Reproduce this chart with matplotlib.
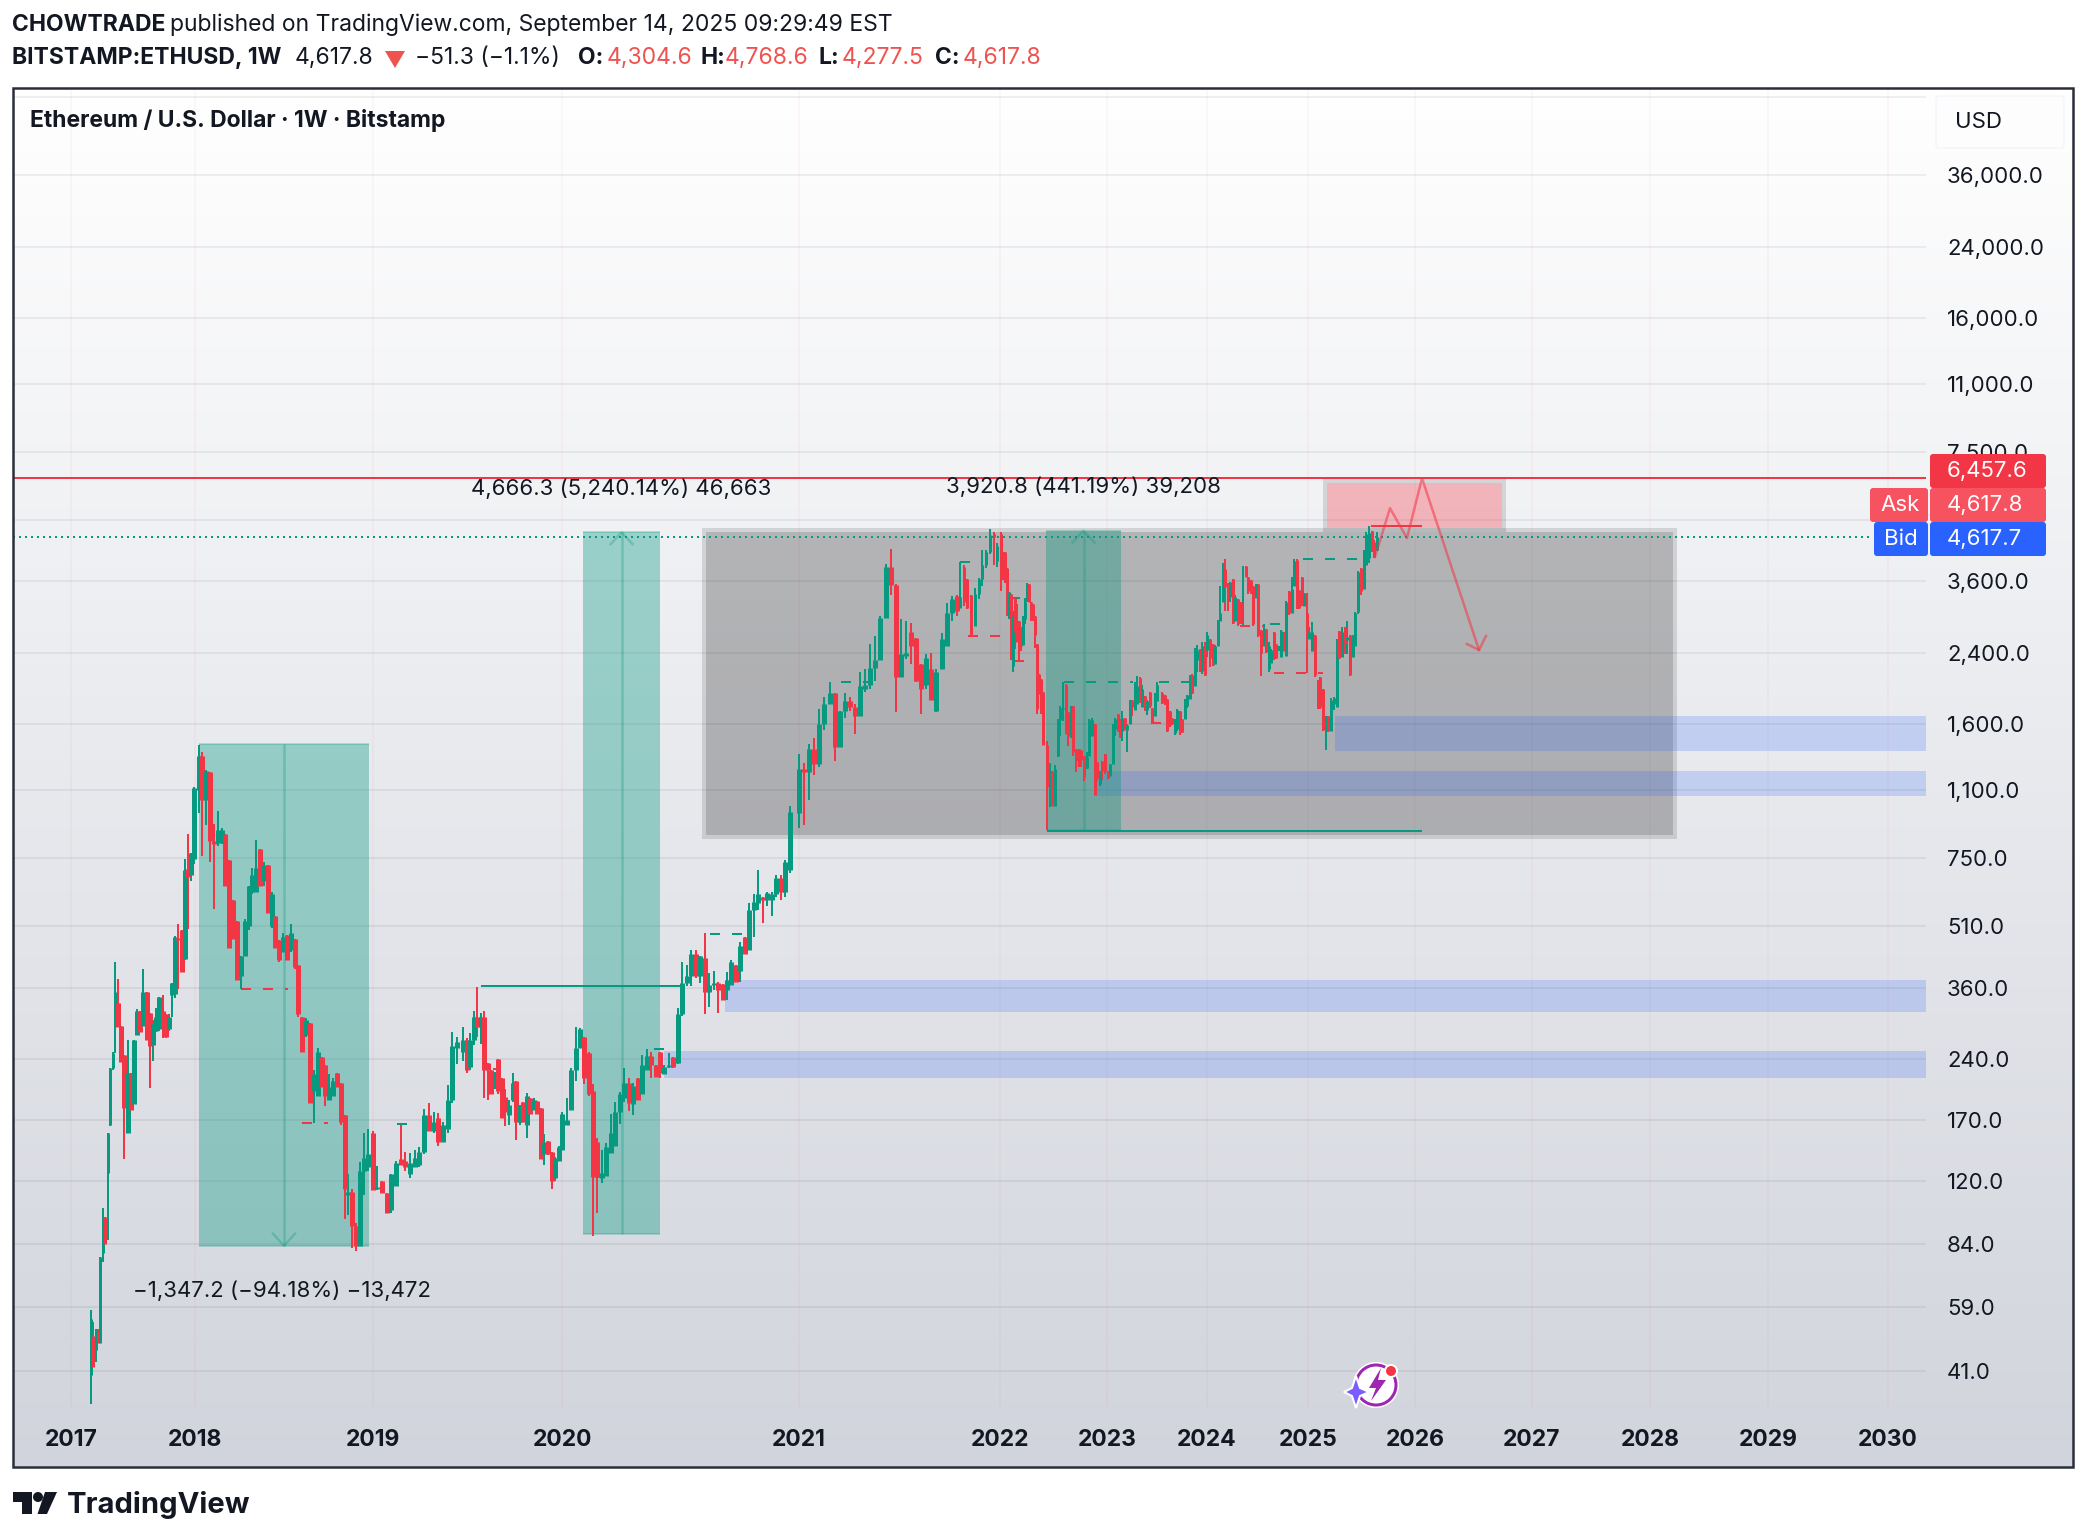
import numpy as np
import matplotlib
matplotlib.use('Agg')
import matplotlib.pyplot as plt
from matplotlib.patches import Rectangle, FancyBboxPatch, Circle, Polygon, Arc
from matplotlib.ticker import NullLocator

plt.rcParams['font.family'] = ['Inter', 'DejaVu Sans']

# weekly candles, one list per stretch of the chart: open, high, low, close
ohlc_2017a = [[40,58,34,55],[50,54,42,42],[46,52,43,50],[51,52,48,48],[48,78,48,78],[80,103,76,92],
              [98,98,84,84],[126,158,86,158],[165,228,164,228],[228,250,225,248],[305,415,248,350]]
ohlc_2017b = [[330,378,288,288],[290,290,236,236],[245,245,136,182],[158,268,158,222],[222,222,180,180],
              [186,268,186,268],[275,318,275,315],[315,315,280,280],[290,400,290,350],[350,350,268,268],
              [312,312,204,258],[260,300,238,295],[282,320,280,305],[285,342,282,342],[315,345,270,288],
              [310,310,270,272],[285,310,282,305],[345,370,305,370],[348,482,340,480],[478,515,358,472],
              [498,498,393,393],[422,745,420,700],[705,860,503,675],[680,770,660,770],[745,1120,725,1115]]
ohlc_2018 = [[1100,1420,970,1340],[1340,1370,760,1040],[1045,1235,905,1230],[1225,1225,735,825],[825,910,563,810],
             [815,980,805,880],[840,890,810,880],[860,860,640,640],[740,740,450,450],[590,590,475,475],
             [525,525,375,375],[385,430,358,430],[430,530,435,525],[510,640,500,640],[620,710,610,680],
             [620,830,620,710],[790,790,640,640],[660,734,640,720],[720,720,550,550],[510,620,505,610],
             [540,540,450,450],[470,470,415,420],[440,490,440,480],[485,485,420,420],[445,515,440,490],
             [475,475,400,405],[410,410,305,310],[305,305,250,250],[275,303,272,300],[295,295,187,187],
             [200,225,167,220],[195,255,195,250],[243,243,205,205],[232,232,184,195],[190,220,190,205],
             [195,215,195,212],[222,222,205,205],[210,210,165,168],[175,175,97,115],[111,125,99,113],
             [113,115,82,93],[93,95,81,83],[83,134,83,127],[127,158,111,137],[130,161,127,140]]
ohlc_2019a = [[158,160,114,114],[115,131,114,116],[120,120,112,112],[112,112,100,100],[102,125,100,125],
              [117,135,117,133],[136,165,132,132],[135,142,127,130],[125,141,122,133],[130,143,130,137],
              [132,146,130,142],[142,181,140,175],[175,187,160,160],[160,178,158,168],[172,177,147,150],
              [150,168,150,165],[161,207,158,190],[190,280,187,258],[255,272,233,265]]
ohlc_2019b = [[250,288,238,268],[268,270,222,225],[230,278,226,268],[268,316,260,304],[304,362,272,288],
              [288,312,262,304],[304,316,192,226],[235,235,190,226],[226,226,197,197],[205,223,203,220],
              [240,240,197,200],[216,216,172,172],[194,202,164,178],[175,190,165,185],[190,222,188,210],
              [212,212,152,168],[168,185,165,185],[188,188,168,168],[165,198,153,195],[192,192,176,176],
              [180,193,180,190],[189,189,176,176],[182,182,136,136],[140,157,132,150],[151,151,139,140],
              [142,142,115,120],[122,138,120,137],[135,147,135,146],[143,178,143,176],[165,192,165,170],
              [180,228,180,226],[226,288,212,255],[255,287,255,285]]
ohlc_2020 = [[272,272,208,215],[249,250,195,197],[200,208,88,123],[150,153,100,123],[122,143,119,126],
             [124,149,124,146],[141,176,141,158],[147,188,147,178],[178,199,166,197],[192,228,188,210],
             [209,216,179,187],[186,209,175,206],[216,216,190,190],[197,245,197,232],[226,254,225,244],
             [244,250,215,232],[232,232,217,217],[250,250,215,222],[220,232,220,230],[230,248,228,232],
             [243,243,228,230],[235,320,234,310],[310,416,307,370],[370,408,363,385],[385,445,363,435],
             [435,446,380,385],[385,430,370,430],[425,490,310,350],[350,390,323,365],[365,395,355,370],
             [370,372,312,355],[368,368,335,335],[355,393,335,375],[365,420,365,415],[410,410,372,372],
             [395,466,372,455],[480,480,435,435],[446,580,446,560],[558,610,480,585],[580,700,560,610],
             [600,600,520,590],[590,620,570,615],[590,620,540,610],[610,680,600,670],[670,680,590,620],
             [620,740,600,735],[700,1010,690,973]]
ohlc_2021a = [[970,1349,890,1245],[1245,1285,905,1225],[1225,1430,1040,1390],[1390,1480,1200,1280],
              [1280,1750,1260,1600],[1600,1870,1550,1795],[1795,2040,1795,1915],[1910,1915,1300,1410],
              [1410,1730,1410,1730],[1730,1915,1660,1825],[1825,1870,1730,1770],[1770,1800,1515,1680],
              [1680,2150,1680,1990],[1950,2190,1925,2000],[2000,2530,1950,2200],[2200,2640,2050,2300],
              [2310,2960,2310,2930],[2925,3970,2925,3900],[3900,4320,3340,3535],[3535,3550,1720,2090],
              [2090,2900,2090,2380],[2360,2880,2320,2400],[2700,2840,2250,2500],[2610,2610,2030,2045],
              [2250,2250,1695,1960],[2000,2385,1950,2330],[2190,2400,1840,1840],[1730,2190,1720,2150],
              [2190,2680,2190,2600],[2500,3180,2500,3010],[3010,3310,2880,3260],[3310,3340,2950,3050]]
ohlc_2021b = [[3100,4020,3100,3300],[3900,3950,3130,3200],[3650,3650,3080,3090],[3340,3340,2640,2640],
              [2790,3470,2790,3350],[3350,3660,3250,3650],[3650,4300,3500,3950],[3940,4300,3880,4260],
              [4260,4830,4200,4680],[4700,4750,3960,4620],[4050,4480,3900,4400],[4700,4750,3400,3870],
              [4250,4250,3630,3800],[4240,4240,3570,3800],[3880,3880,2950,3150],[2950,3380,2900,3380],
              [3350,3350,2300,2350],[2230,3040,2150,2950],[3270,3270,2460,2700],[2880,3160,2550,2550],
              [2880,2880,2300,2540],[2780,2780,2430,2500],[2510,2960,2510,2950],[2900,3270,2830,3200],
              [3195,3560,3195,3200],[3550,3550,3195,3200],[3195,3195,2880,2900],[3170,3170,2870,2960],
              [2960,2960,2470,2650],[2520,2520,1695,1750],[2130,2130,1900,1900],[2075,2075,1700,1900],
              [1920,1920,1420,1420]]
ohlc_2022 = [[1420,1460,880,1120],[1030,1285,1000,1120],[1230,1230,1005,1010],[1010,1270,1015,1240],
             [1340,1650,1330,1640],[1640,1780,1500,1760],[1750,2030,1630,1760],[2000,2010,1515,1515],
             [1720,1720,1415,1500],[1490,1780,1480,1700],[1780,1780,1335,1370],[1390,1390,1225,1300],
             [1395,1395,1255,1290],[1380,1380,1255,1310],[1340,1340,1160,1190],[1250,1365,1240,1330],
             [1340,1650,1340,1640],[1500,1660,1500,1640],[1600,1600,1070,1075],[1290,1290,1160,1180],
             [1140,1230,1130,1220],[1300,1300,1170,1230],[1350,1350,1210,1230],[1230,1230,1175,1180],
             [1195,1280,1195,1275],[1275,1600,1275,1590],[1560,1660,1500,1650],[1700,1700,1530,1540],
             [1650,1650,1480,1560],[1540,1730,1460,1660],[1660,1660,1550,1550],[1550,1600,1365,1590],
             [1600,1840,1600,1820],[1840,1840,1680,1770],[1740,2030,1740,1960],[1800,2110,1800,1990],
             [2080,2090,1810,1980],[1770,2000,1770,1950],[1880,1880,1730,1800],[1740,1840,1690,1825],
             [1920,1920,1760,1780],[1760,1760,1610,1620],[1680,1915,1680,1900],[1830,2030,1830,2000]]
ohlc_2023 = [[1915,1925,1800,1810],[1890,1890,1790,1795],[1850,1850,1530,1540],[1730,1730,1575,1590],
             [1660,1660,1590,1600],[1520,1650,1510,1600],[1560,1750,1540,1740],[1730,1730,1510,1530],
             [1650,1650,1525,1530],[1650,1850,1650,1840],[1780,1895,1760,1890],[1850,2120,1850,2100],
             [2120,2130,1900,1910],[1990,2470,1990,2190],[2300,2510,2150,2440],[2450,2450,2150,2170],
             [2170,2550,2130,2500],[2500,2550,2100,2120],[2440,2700,2340,2650],[2600,2600,2210,2330],
             [2520,2520,2230,2240],[2250,2510,2250,2490],[2500,2890,2500,2880],[2880,3510,2880,3000],
             [3200,3990,3200,3870],[3850,4080,3040,3480],[3570,3570,3040,3300],[3300,3590,3200,3580],
             [3640,3650,2820,2840],[2880,3340,2880,3300],[3260,3260,2800,2820],[3200,3200,2830,2840],
             [2840,3920,2810,2850],[3930,3930,3700,3700],[3680,3680,3350,3400],[3620,3620,3350,3370],
             [3510,3510,2800,2820],[3270,3540,3270,3530],[3540,3540,2630,2650],[2730,2730,2110,2400],
             [2500,2820,2500,2750],[2750,2750,2400,2410],[2190,2550,2150,2500],[2260,2450,2260,2440],
             [2700,2700,2300,2330],[2520,2520,2320,2330],[2440,2490,2430,2490],[2340,2730,2340,2720],
             [2700,2700,2420,2430],[2360,3220,2360,3200],[3400,3400,2970,3000],[3000,3700,3000,3450],
             [3510,4080,3510,4050],[4070,4080,3080,3300],[3420,3420,3080,3100],[3700,3700,3130,3350],
             [3130,3370,3130,3370],[3000,3370,2140,2700],[2590,2780,2590,2700],[2430,2860,2430,2700],
             [2650,2650,2090,2120],[2060,2060,1750,1950],[2090,2090,1750,1770],[1950,1950,1540,1550],
             [1540,1680,1380,1545],[1680,1680,1530,1540],[1540,1860,1540,1840],[1800,1870,1740,1860],
             [1770,2590,1770,2570],[2720,2720,2320,2330],[2350,2780,2350,2700],[2780,2780,2380,2540],
             [2580,2870,2380,2620],[2650,2650,2110,2120],[2350,2650,2350,2640],[2500,3020,2500,3000],
             [3020,3820,2990,3800],[3880,3880,3340,3400],[3450,4300,3450,4250],[3950,4750,3950,4700],
             [4100,4925,4000,4730],[4790,4800,4240,4270],[4500,4560,4120,4130],[4304.6,4768.6,4277.5,4617.8]]

# first and last candle date of each stretch, in years
stretches = [(ohlc_2017a, 2017.159, 2017.355), (ohlc_2017b, 2017.379, 2017.995), (ohlc_2018, 2018.02, 2018.97),
             (ohlc_2019a, 2018.998, 2019.444), (ohlc_2019b, 2019.476, 2020.076), (ohlc_2020, 2020.093, 2020.96),
             (ohlc_2021a, 2021.0, 2021.785), (ohlc_2021b, 2021.80, 2022.40), (ohlc_2022, 2022.44, 2023.5),
             (ohlc_2023, 2023.55, 2025.645)]

# price axis
price_ticks = [56000, 36000, 24000, 16000, 11000, 7500, 5100, 3600, 2400, 1600, 1100, 750, 510, 360, 240, 170, 120, 84, 59, 41]
price_labels = ['', '36,000.0', '24,000.0', '16,000.0', '11,000.0', '7,500.0', '', '3,600.0', '2,400.0', '1,600.0',
                '1,100.0', '750.0', '510.0', '360.0', '240.0', '170.0', '120.0', '84.0', '59.0', '41.0']
# the time axis is not even: each year gets its own width
year_ticks = list(range(2017, 2031))
year_anchor = [2016.53] + year_ticks + [2030.32]
width_anchor = [13, 71, 195, 373, 562, 799, 1000, 1107, 1207, 1308, 1415, 1532, 1650, 1768, 1888, 1926]

# horizontal levels: price, start, end
green_solid = [[166, 2019.127, 2019.18], [362.5, 2019.571, 2020.51], [254, 2020.388, 2020.43], [4015, 2021.80, 2021.851],
               [3275, 2022.093, 2022.187], [876, 2022.44, 2026.06], [2820, 2024.624, 2024.723]]
green_dashed = [[489, 2020.624, 2020.76], [2036, 2021.209, 2021.363], [2030, 2022.598, 2023.26], [2030, 2023.52, 2023.85],
                [4084, 2024.95, 2025.55]]
red_solid = [[227, 2019.635, 2019.677], [123, 2020.152, 2020.181], [2293, 2022.131, 2022.224], [1615, 2023.44, 2023.54],
             [4923, 2025.589, 2026.06]]
red_dashed = [[358, 2018.258, 2018.522], [167, 2018.601, 2018.747], [2641, 2021.841, 2022.0], [2796, 2024.327, 2024.554],
              [2143, 2024.663, 2025.14]]
last_price = 4617.7
resistance = 6457.6

# date ranges drawn on the chart: start, end, price from, price to
range_down = [2018.02, 2018.98, 1430.5, 83.3]
range_up_2020 = [2020.089, 2020.414, 89, 4755.3]
range_up_2022 = [2022.43, 2023.14, 880, 4800.8]
grey_zone = [2020.608, 2028.195, 857, 4758]
pink_zone = [2025.178, 2026.744, 4868, 6278]
blue_zones = [[2025.25, 1378, 1680], [2022.888, 1068, 1231], [2020.688, 313, 375], [2020.43, 215, 251]]

# forecast path and its arrow head
path_dates = [2025.626, 2025.766, 2025.925, 2026.06, 2026.547]
path_prices = [4130, 5450, 4600, 6457.6, 2440]
head_dates = [2026.444, 2026.547, 2026.607]
head_prices = [2524, 2440, 2641]

GREEN = '#089981'
RED = '#f23645'
INK = '#131722'
W, H = 2086, 1540


def to_width(x):
    return np.interp(x, year_anchor, width_anchor)


def to_year(x):
    return np.interp(x, width_anchor, year_anchor)


def px(n):
    return n * 72 / 100


fig = plt.figure(figsize=(W / 100, H / 100), dpi=100, facecolor='white')

# background gradient fills the chart frame
bg = fig.add_axes([13 / W, 1 - 1467 / H, 2060 / W, 1379 / H], zorder=0)
top, bottom = np.array([255, 255, 255]) / 255, np.array([209, 212, 220]) / 255
grad = np.linspace(0, 1, 256)[:, None, None] * (bottom - top)[None, None, :] + top
bg.imshow(grad, aspect='auto')
bg.axis('off')

ax = fig.add_axes([13 / W, 1 - 1408 / H, 1913 / W, 1320 / H], zorder=1)
ax.patch.set_alpha(0)
ax.set_xscale('function', functions=(to_width, to_year))
ax.set_yscale('log')
ax.set_xlim(2016.53, 2030.32)
ax.set_ylim(33.2, 59000)
for s in ax.spines.values():
    s.set_visible(False)

ax.set_xticks(year_ticks)
ax.set_xticklabels(year_ticks, fontsize=16.5, fontweight='bold', color=INK)
ax.xaxis.set_minor_locator(NullLocator())
ax.tick_params(axis='x', length=0, pad=px(21))
ax.yaxis.tick_right()
ax.set_yticks(price_ticks)
ax.set_yticklabels(price_labels, fontsize=16, color=INK)
ax.yaxis.set_minor_locator(NullLocator())
ax.tick_params(axis='y', length=0, pad=px(21))
ax.grid(axis='y', color='#2a2e39', alpha=0.07, lw=px(2))
ax.grid(axis='x', color=RED, alpha=0.05, lw=px(1.5))
ax.set_axisbelow(True)


def zone(x0, x1, y0, y1, color, alpha, edge=True):
    ax.add_patch(Rectangle((x0, y0), x1 - x0, y1 - y0, fc=color, alpha=alpha, lw=0, zorder=2))
    if edge:
        # soft grey border sits just outside the fill
        ex0, ex1 = to_year(to_width(x0) - 2), to_year(to_width(x1) + 2)
        ax.add_patch(Rectangle((ex0, y0 / 1.0114), ex1 - ex0, y1 * 1.0114 - y0 / 1.0114, fill=False,
                               ec=(0, 0, 0, 0.12), lw=px(4), zorder=2))


zone(grey_zone[0], grey_zone[1], grey_zone[2], grey_zone[3], 'black', 0.25)
zone(pink_zone[0], pink_zone[1], pink_zone[2], pink_zone[3], RED, 0.33)
for start, low, high in blue_zones:
    zone(start, 2030.32, low, high, '#2962ff', 0.2, edge=False)

# green measured ranges with a centre line and arrow head
for (x0, x1, p0, p1) in [range_down, range_up_2020, range_up_2022]:
    ax.add_patch(Rectangle((x0, p0), x1 - x0, p1 - p0, fc=GREEN, alpha=0.37, lw=0, zorder=3))
    ax.hlines([p0, p1], x0, x1, color=GREEN, alpha=0.25, lw=px(2), zorder=3)
    mid = to_year((to_width(x0) + to_width(x1)) / 2)
    ax.plot([mid, mid], [p0, p1], color=GREEN, alpha=0.3, lw=px(2.5), zorder=3, solid_capstyle='butt')
    sign = 1 if p1 > p0 else -1
    ax.plot([to_year(to_width(mid) - 11), mid, to_year(to_width(mid) + 11)],
            [p1 * np.exp(-sign * 12 / 176.7), p1, p1 * np.exp(-sign * 12 / 176.7)],
            color=GREEN, alpha=0.3, lw=px(2.5), zorder=3)

ax.text(2018.49, 64.4, '\u22121,347.2 (\u221294.18%) \u221213,472', ha='center', va='center', fontsize=16, color=INK, zorder=6)
ax.text(2020.25, 6068, '4,666.3 (5,240.14%) 46,663', ha='center', va='center', fontsize=16, color=INK, zorder=6)
ax.text(2022.785, 6139, '3,920.8 (441.19%) 39,208', ha='center', va='center', fontsize=16, color=INK, zorder=6)

# levels
ax.axhline(resistance, color=RED, lw=px(2), zorder=4)
ax.hlines(last_price, 2016.53, to_year(1870), color=GREEN, lw=px(2), linestyle=(0, (1, 2)), zorder=4)
for rows, color, style in [(green_solid, GREEN, 'solid'), (green_dashed, GREEN, (0, (5, 6))),
                           (red_solid, RED, 'solid'), (red_dashed, RED, (0, (5, 6)))]:
    for price, x0, x1 in rows:
        ax.plot([x0, x1], [price, price], color=color, lw=px(2), linestyle=style, zorder=4,
                solid_capstyle='butt', dash_capstyle='butt')

# candles
for rows, first, last in stretches:
    rows = np.array(rows, dtype=float)
    dates = np.linspace(first, last, len(rows))
    opens, highs, lows, closes = rows.T
    colors = [GREEN if c >= o else RED for o, c in zip(opens, closes)]
    thick = first < 2021.5 and first > 2017.3
    ax.vlines(dates, lows, highs, colors=colors, lw=px(2), zorder=5, capstyle='butt')
    ax.vlines(dates, np.minimum(opens, closes), np.maximum(opens, closes), colors=colors,
              lw=px(5 if thick else 3), zorder=5, capstyle='butt')

# forecast path
ax.plot(path_dates, path_prices, color=RED, alpha=0.55, lw=px(2.5), zorder=6)
ax.plot(head_dates, head_prices, color=RED, alpha=0.55, lw=px(2.5), zorder=6)

# everything around the chart, in picture pixels
ch = fig.add_axes([0, 0, 1, 1], zorder=3)
ch.set_xlim(0, W)
ch.set_ylim(H, 0)
ch.axis('off')
ch.patch.set_alpha(0)
ch.add_patch(Rectangle((13, 88), 2060, 1379, fill=False, ec='#2a2e39', lw=px(2.5)))


def box(x0, y0, x1, y1, color, ec='none'):
    ch.add_patch(FancyBboxPatch((x0 + 3, y0 + 3), x1 - x0 - 6, y1 - y0 - 6, boxstyle='round,pad=3,rounding_size=3',
                                fc=color, ec=ec, lw=px(1)))


box(1936, 96, 2064, 148, '#fdfdfd', ec='#f0f3fa')
ch.text(1955, 122, 'USD', fontsize=16, color=INK, va='center')
box(1930, 454, 2046, 488, '#f23645')
box(1930, 488, 2046, 522, '#f7525f')
box(1930, 522, 2046, 556, '#2962ff')
box(1870, 488, 1928, 522, '#f7525f')
box(1874, 522, 1928, 556, '#2962ff')
for y, t in [(471, '6,457.6'), (505, '4,617.8'), (539, '4,617.7')]:
    ch.text(1947, y, t, fontsize=16, color='white', va='center')
ch.text(1880, 505, 'Ask', fontsize=16, color='white', va='center')
ch.text(1884, 539, 'Bid', fontsize=16, color='white', va='center')

# header lines
ch.text(12, 25, 'CHOWTRADE', fontsize=16.5, fontweight='bold', color=INK, va='center')
ch.text(170, 25, 'published on TradingView.com, September 14, 2025 09:29:49 EST', fontsize=16.5, color=INK, va='center')
ch.text(12, 58, 'BITSTAMP:ETHUSD, 1W', fontsize=16.5, fontweight='bold', color=INK, va='center')
ch.text(295, 58, '4,617.8', fontsize=16.5, color=INK, va='center')
ch.add_patch(Polygon([(385, 51), (405, 51), (395, 68)], fc='#ef5350', lw=0))
ch.text(415, 58, '\u221251.3 (\u22121.1%)', fontsize=16.5, color=INK, va='center')
for x, t in [(578, 'O:'), (700, 'H:'), (819, 'L:'), (935, 'C:')]:
    ch.text(x, 58, t, fontsize=16.5, fontweight='bold', color=INK, va='center')
for x, t in [(607, '4,304.6'), (725, '4,768.6'), (842, '4,277.5'), (963, '4,617.8')]:
    ch.text(x, 58, t, fontsize=16.5, color='#ef5350', va='center')
ch.text(30, 120, 'Ethereum / U.S. Dollar \u00b7 1W \u00b7 Bitstamp', fontsize=16.5, fontweight='bold', color=INK, va='center')

# footer logo
ch.add_patch(Polygon([(12.5, 1492), (32, 1492), (32, 1514), (22, 1514), (22, 1502), (12.5, 1502)], fc=INK, lw=0))
ch.add_patch(Circle((38, 1497), 5, fc=INK, lw=0))
ch.add_patch(Polygon([(45, 1492), (57, 1492), (47, 1514), (37.5, 1514)], fc=INK, lw=0))
ch.text(67, 1505, 'TradingView', fontsize=21, fontweight='bold', color=INK, va='center')

# small badge near the bottom of the chart
ch.add_patch(Circle((1376, 1385), 23, fc='white', lw=0))
ch.add_patch(Arc((1376, 1385), 40, 40, theta1=0, theta2=360, ec='#9c27b0', lw=px(3)))
ch.add_patch(Polygon([(1381, 1368), (1369, 1388), (1376, 1388), (1371, 1401), (1386, 1380), (1378, 1380)], fc='#9c27b0', lw=0))
ch.add_patch(Polygon([(1356, 1376), (1360, 1388), (1369, 1392), (1360, 1396), (1356, 1408), (1352, 1396), (1344, 1392), (1352, 1388)],
                     fc='#7b5cff', ec='white', lw=px(2)))
ch.add_patch(Circle((1391, 1371), 6, fc='#f23645', ec='white', lw=px(2)))

fig.savefig('out.png', dpi=100)
